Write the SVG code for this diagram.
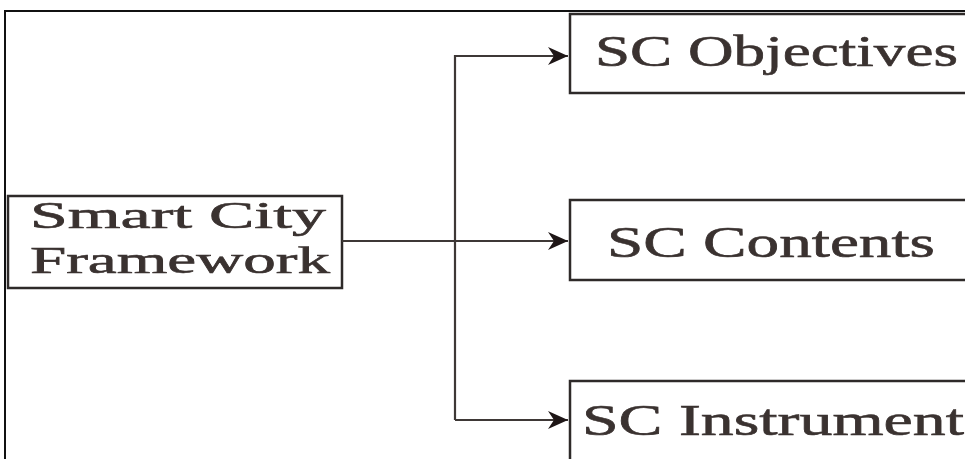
<svg xmlns="http://www.w3.org/2000/svg" width="965" height="459" viewBox="0 0 965 459">
<style>
.box{fill:#fff;stroke:#2e2a29;stroke-width:2.5}
.lbl{font-family:"Liberation Serif","Times New Roman",serif;fill:#3a3230;stroke:#3a3230;stroke-width:0.6}
.con{fill:none;stroke:#3e3836;stroke-width:2.2}
</style>
<defs>
<marker id="ah" markerWidth="22" markerHeight="18" refX="20" refY="9" orient="auto" markerUnits="userSpaceOnUse">
<path d="M0,0 L20,9 L0,18 L6,9 Z" fill="#1e1616"/>
</marker>
</defs>
<rect width="965" height="459" fill="#fff"/>
<path d="M5,459 V11 H965" fill="none" stroke="#111" stroke-width="2"/>
<g id="framework">
<rect class="box" x="8" y="196" width="334" height="92"/>
<text class="lbl" x="30" y="228" font-size="38" textLength="296" lengthAdjust="spacingAndGlyphs">Smart  City</text>
<text class="lbl" x="30" y="273" font-size="38" textLength="300" lengthAdjust="spacingAndGlyphs">Framework</text>
</g>
<g id="objectives">
<rect class="box" x="570" y="14" width="400" height="79"/>
<text class="lbl" x="595" y="66" font-size="44" textLength="363" lengthAdjust="spacingAndGlyphs">SC Objectives</text>
</g>
<g id="contents">
<rect class="box" x="570" y="200" width="400" height="80"/>
<text class="lbl" x="607" y="257" font-size="44" textLength="328" lengthAdjust="spacingAndGlyphs">SC Contents</text>
</g>
<g id="instrument">
<rect class="box" x="570" y="381" width="400" height="90"/>
<text class="lbl" x="582" y="435" font-size="44" textLength="382" lengthAdjust="spacingAndGlyphs">SC Instrument</text>
</g>
<g id="connectors">
<path class="con" d="M342,241 H568" marker-end="url(#ah)"/>
<path class="con" d="M455,420 V56 H568" marker-end="url(#ah)"/>
<path class="con" d="M455,420 H568" marker-end="url(#ah)"/>
</g>
</svg>
